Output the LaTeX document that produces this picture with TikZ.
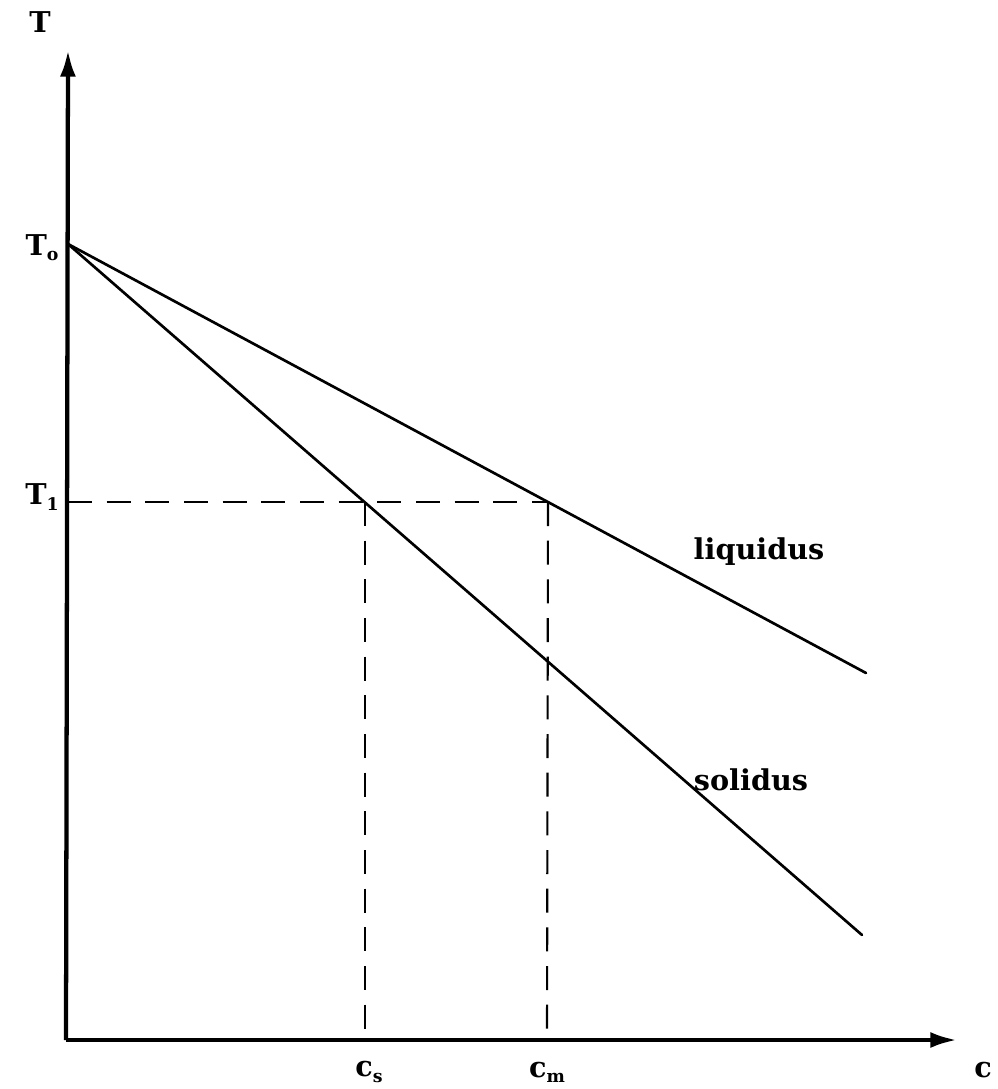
\documentclass[tikz,border=0pt]{standalone}
\usepackage{fontspec}
\setmainfont{DejaVu Serif}
\usepackage{tikz}
\usetikzlibrary{positioning,arrows.meta,calc}
\definecolor{ink}{HTML}{000000}
\tikzset{
  >={Latex[length=20pt,width=12pt]},
  every node/.style={font=\fontsize{21.5}{26}\selectfont\bfseries, text=ink},
  % --- lines
  axis/.style   = {->, line width=3.2pt, draw=ink},
  curve/.style  = {line width=2pt, draw=ink, line cap=round},
  guide/.style  = {line width=1.6pt, draw=ink, dash pattern=on 18pt off 11pt},
  lbl/.style    = {inner sep=0pt},
}
\newcommand{\lowsub}[1]{\raisebox{-0.35ex}{\fontsize{13}{15}\selectfont\bfseries #1}}
\begin{document}
\begin{tikzpicture}[x=0.75pt,y=-0.75pt]
  \useasboundingbox (0,0) rectangle (997,1089);
  % --- points
  \coordinate (O)   at (66,1040);
  \coordinate (ytip) at (68,50);
  \coordinate (xtip) at (957,1040);
  \coordinate (T0)  at (68,244);
  \coordinate (T1)  at (68,502);
  \coordinate (liqend) at (866,673);
  \coordinate (solend) at (862,935);
  \coordinate (ps)  at (365,502);
  \coordinate (pm)  at (548,502);
  \coordinate (cs)  at (365,1040);
  \coordinate (cm)  at (547,1040);
  % --- axes
  \draw[axis] (O) -- (ytip);
  \draw[axis] (O) -- (xtip);
  % --- liquidus and solidus
  \draw[curve] (T0) -- (liqend);
  \draw[curve] (T0) -- (solend);
  % --- guides
  \draw[guide] (T1) -- (pm);
  \draw[guide] (ps) -- (cs);
  \draw[guide] (pm) -- (cm);
  % --- labels
  \node[lbl] (lT)   at (40,22)   {T};
  \node[lbl] (lT0)  at (42,248)  {T\lowsub{o}};
  \node[lbl] (lT1)  at (42,497)  {T\lowsub{1}};
  \node[lbl] (lcs)  at (369,1072) {c\lowsub{s}};
  \node[lbl] (lcm)  at (547,1072) {c\lowsub{m}};
  \node[lbl] (lc)   at (983,1070) {c};
  \node[lbl] (lliq) at (759,552)  {liquidus};
  \node[lbl] (lsol) at (751,780)  {solidus};
\end{tikzpicture}
\end{document}
